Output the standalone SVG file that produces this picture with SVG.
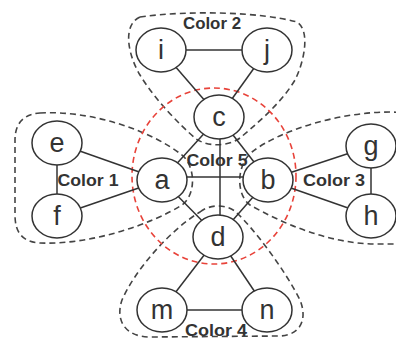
<svg xmlns="http://www.w3.org/2000/svg" width="396" height="341" viewBox="0 0 396 341">
<style>
.hull{fill:none;stroke:#444;stroke-width:1.6;stroke-dasharray:6,4}
.red{fill:none;stroke:#e8433a;stroke-width:1.6;stroke-dasharray:6,4}
.edge{stroke:#333;stroke-width:1.5;fill:none}
.node ellipse{fill:#fff;stroke:#333;stroke-width:1.5}
.node text{font-family:"Liberation Sans",Arial,sans-serif;font-size:27px;fill:#333;text-anchor:middle}
.lbl{font-family:"Liberation Sans",Arial,sans-serif;font-size:16px;font-weight:bold;fill:#333;text-anchor:middle}
</style>
<rect width="396" height="341" fill="#fff"/>
<g id="hulls">
<path id="color1" class="hull" d="M40,113 C90,110 150,130 182,155 C196,167 196,195 182,205 C150,225 90,245 40,243 C22,242 15,232 15,215 L15,140 C15,122 25,114 40,113 Z"/>
<path id="color3" class="hull" d="M420,113 L390,112 C340,112 280,130 252,152 C236,165 236,195 250,205 C280,222 330,245 380,244 L420,244"/>
<path id="color2" class="hull" d="M140,17 C190,10 260,12 297,22 C310,30 305,60 295,80 C280,105 255,125 240,138 C228,147 206,147 195,138 C180,125 155,100 140,75 C128,55 122,25 140,17 Z"/>
<path id="color4" class="hull" d="M200,212 C210,204 226,204 236,212 C255,230 285,270 300,300 C308,320 300,335 280,336 L150,337 C125,337 115,320 122,300 C135,270 170,230 200,212 Z"/>
<ellipse id="color5" class="red" cx="214" cy="176" rx="82" ry="88"/>
</g>
<g id="connectors">
<line class="edge" x1="161" y1="50" x2="267" y2="50"/>
<line class="edge" x1="161" y1="50" x2="219" y2="117"/>
<line class="edge" x1="267" y1="50" x2="219" y2="117"/>
<line class="edge" x1="57" y1="143" x2="57" y2="216"/>
<line class="edge" x1="57" y1="143" x2="162" y2="180"/>
<line class="edge" x1="57" y1="216" x2="162" y2="180"/>
<line class="edge" x1="371" y1="146" x2="371" y2="216"/>
<line class="edge" x1="371" y1="146" x2="268" y2="180"/>
<line class="edge" x1="371" y1="216" x2="268" y2="180"/>
<line class="edge" x1="219" y1="117" x2="162" y2="180"/>
<line class="edge" x1="219" y1="117" x2="268" y2="180"/>
<line class="edge" x1="218" y1="237" x2="162" y2="180"/>
<line class="edge" x1="218" y1="237" x2="268" y2="180"/>
<line class="edge" x1="220" y1="117" x2="220" y2="237"/>
<line class="edge" x1="162" y1="177" x2="268" y2="177"/>
<line class="edge" x1="218" y1="237" x2="162" y2="310"/>
<line class="edge" x1="218" y1="237" x2="267" y2="310"/>
<line class="edge" x1="162" y1="310" x2="267" y2="310"/>
</g>
<g id="node-i" class="node"><ellipse cx="161" cy="50" rx="25" ry="22"/><text x="161" y="59">i</text></g>
<g id="node-j" class="node"><ellipse cx="267" cy="50" rx="25" ry="22"/><text x="267" y="59">j</text></g>
<g id="node-c" class="node"><ellipse cx="219" cy="117" rx="25" ry="22"/><text x="219" y="126">c</text></g>
<g id="node-a" class="node"><ellipse cx="162" cy="180" rx="25" ry="22"/><text x="162" y="189">a</text></g>
<g id="node-b" class="node"><ellipse cx="268" cy="180" rx="25" ry="22"/><text x="268" y="189">b</text></g>
<g id="node-d" class="node"><ellipse cx="218" cy="237" rx="25" ry="22"/><text x="218" y="246">d</text></g>
<g id="node-e" class="node"><ellipse cx="57" cy="143" rx="25" ry="22"/><text x="57" y="152">e</text></g>
<g id="node-f" class="node"><ellipse cx="57" cy="216" rx="25" ry="22"/><text x="57" y="225">f</text></g>
<g id="node-g" class="node"><ellipse cx="371" cy="146" rx="25" ry="22"/><text x="371" y="155">g</text></g>
<g id="node-h" class="node"><ellipse cx="371" cy="216" rx="25" ry="22"/><text x="371" y="225">h</text></g>
<g id="node-m" class="node"><ellipse cx="162" cy="310" rx="25" ry="22"/><text x="162" y="319">m</text></g>
<g id="node-n" class="node"><ellipse cx="267" cy="310" rx="25" ry="22"/><text x="267" y="319">n</text></g>
<g id="labels">
<text class="lbl" x="212" y="29" textLength="58" lengthAdjust="spacingAndGlyphs">Color 2</text>
<text class="lbl" x="88" y="186" textLength="61" lengthAdjust="spacingAndGlyphs">Color 1</text>
<text class="lbl" x="334" y="186" textLength="62" lengthAdjust="spacingAndGlyphs">Color 3</text>
<text class="lbl" x="216" y="336" textLength="62" lengthAdjust="spacingAndGlyphs">Color 4</text>
<text class="lbl" x="217" y="166" textLength="61" lengthAdjust="spacingAndGlyphs">Color 5</text>
</g>
</svg>
